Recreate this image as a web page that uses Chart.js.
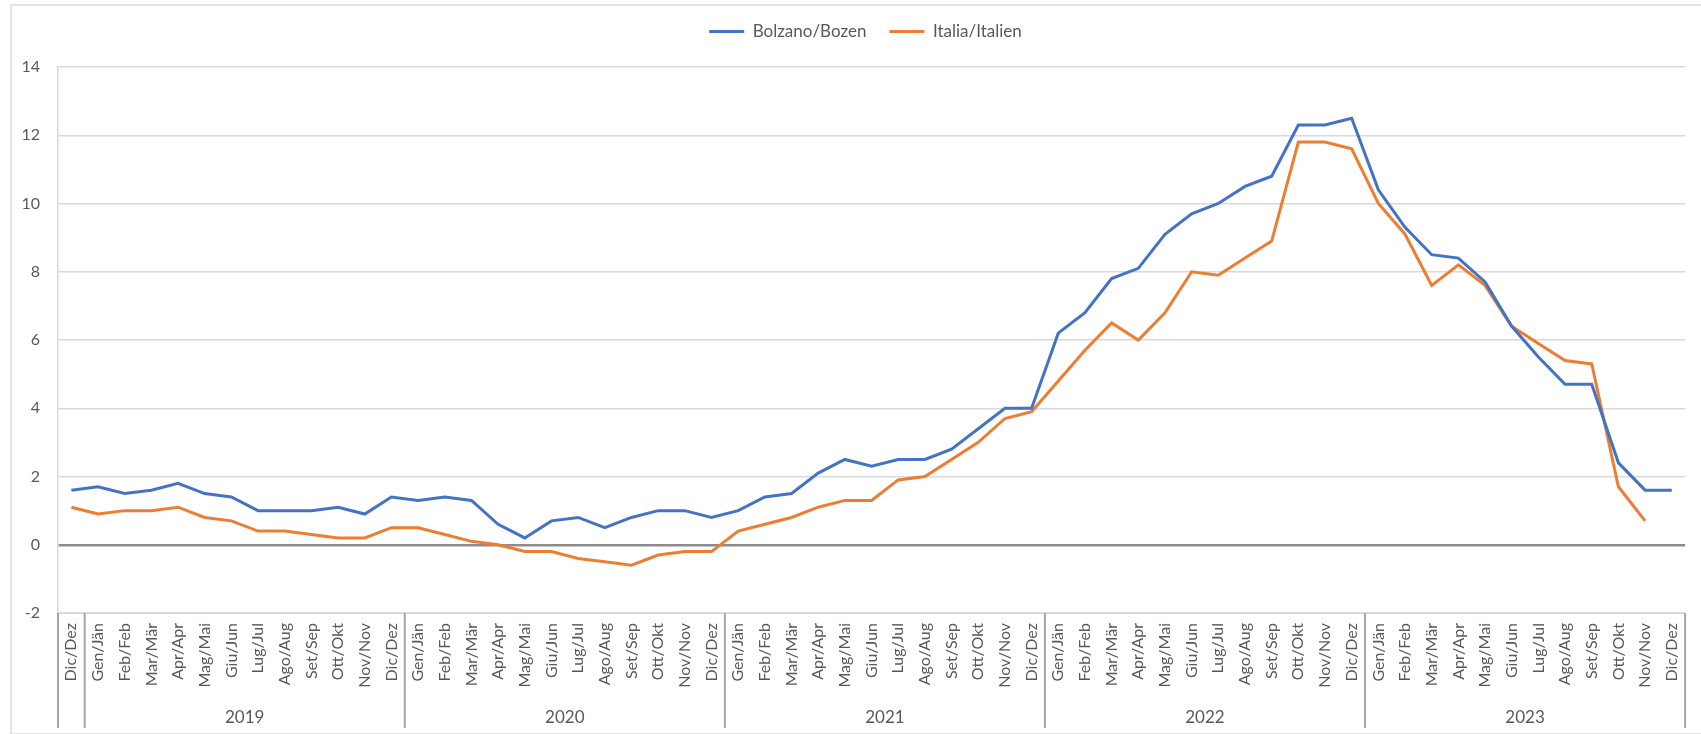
<!DOCTYPE html>
<html>
<head>
<meta charset="utf-8">
<script src="https://cdn.jsdelivr.net/npm/chart.js@4/dist/chart.umd.min.js"></script>
<style>
    body { margin: 0; background: #fff; }
    #wrap { position: relative; width: 1701px; height: 734px; overflow: hidden; }
    #frame {
        position: absolute; left: 10px; top: 4px; width: 1720px; height: 727px;
        border: 2px solid #e3e3e3; pointer-events: none;
    }
</style>
</head>
<body>
<div id="wrap">
    <canvas id="inflChart"></canvas>
    <div id="frame"></div>
</div>
<script>
const months = ['Gen/Jän', 'Feb/Feb', 'Mar/Mär', 'Apr/Apr', 'Mag/Mai', 'Giu/Jun',
    'Lug/Jul', 'Ago/Aug', 'Set/Sep', 'Ott/Okt', 'Nov/Nov', 'Dic/Dez'];
const years = ['2019', '2020', '2021', '2022', '2023'];
const firstLabel = 'Dic/Dez'; // december 2018, no year label under it

const bolzano = [
    1.6,
    1.7, 1.5, 1.6, 1.8, 1.5, 1.4, 1.0, 1.0, 1.0, 1.1, 0.9, 1.4,
    1.3, 1.4, 1.3, 0.6, 0.2, 0.7, 0.8, 0.5, 0.8, 1.0, 1.0, 0.8,
    1.0, 1.4, 1.5, 2.1, 2.5, 2.3, 2.5, 2.5, 2.8, 3.4, 4.0, 4.0,
    6.2, 6.8, 7.8, 8.1, 9.1, 9.7, 10.0, 10.5, 10.8, 12.3, 12.3, 12.5,
    10.4, 9.3, 8.5, 8.4, 7.7, 6.4, 5.5, 4.7, 4.7, 2.4, 1.6, 1.6
];
const italia = [
    1.1,
    0.9, 1.0, 1.0, 1.1, 0.8, 0.7, 0.4, 0.4, 0.3, 0.2, 0.2, 0.5,
    0.5, 0.3, 0.1, 0.0, -0.2, -0.2, -0.4, -0.5, -0.6, -0.3, -0.2, -0.2,
    0.4, 0.6, 0.8, 1.1, 1.3, 1.3, 1.9, 2.0, 2.5, 3.0, 3.7, 3.9,
    4.8, 5.7, 6.5, 6.0, 6.8, 8.0, 7.9, 8.4, 8.9, 11.8, 11.8, 11.6,
    10.0, 9.1, 7.6, 8.2, 7.6, 6.4, 5.9, 5.4, 5.3, 1.7, 0.7, null
];

const categories = [firstLabel];
years.forEach(() => months.forEach(m => categories.push(m)));

const textColor = '#595959';
const fontFamily = 'Lato, "Open Sans", sans-serif';

// year row + group separators under the month labels
const yearRows = {
    id: 'yearRows',
    beforeLayout(chart) {
        const lg = chart.legend;
        if (lg && !lg._patched) {
            const fit = lg.fit.bind(lg);
            lg.fit = function () { fit(); this.height += 17; };
            lg._patched = true;
        }
    },
    afterLayout(chart) {
        // legend is centred on the plot, not on the whole canvas
        if (chart.legend) chart.legend.left += 34;
    },
    afterDraw(chart) {
        const x = chart.scales.x;
        const ctx = chart.ctx;
        const top = chart.chartArea.bottom;
        const bottom = 728;
        const px = i => x.getPixelForValue(i);
        const half = (px(1) - px(0)) / 2;

        const seps = [x.left, px(0) + half];
        years.forEach((y, k) => seps.push(px(12 + 12 * k) + half));
        seps[seps.length - 1] = x.right;

        ctx.save();
        ctx.strokeStyle = '#a6a6a6';
        ctx.lineWidth = 2;
        seps.forEach(s => {
            ctx.beginPath();
            ctx.moveTo(s, top);
            ctx.lineTo(s, bottom);
            ctx.stroke();
        });

        ctx.fillStyle = textColor;
        ctx.font = '17px ' + fontFamily;
        ctx.textAlign = 'center';
        ctx.textBaseline = 'middle';
        years.forEach((y, k) => {
            const c = (px(1 + 12 * k) + px(12 + 12 * k)) / 2;
            ctx.fillText(y, c, 718);
        });
        ctx.restore();
    }
};

new Chart(document.getElementById('inflChart'), {
    type: 'line',
    data: {
        labels: categories,
        datasets: [
            {
                label: 'Bolzano/Bozen',
                data: bolzano,
                borderColor: '#4472C4',
                backgroundColor: '#4472C4',
                borderWidth: 3,
                pointRadius: 0,
                tension: 0
            },
            {
                label: 'Italia/Italien',
                data: italia,
                borderColor: '#ED7D31',
                backgroundColor: '#ED7D31',
                borderWidth: 3,
                pointRadius: 0,
                tension: 0
            }
        ]
    },
    options: {
        responsive: true,
        maintainAspectRatio: false,
        animation: false,
        layout: { padding: { left: 0, right: 4, top: 0, bottom: 0 } },
        plugins: {
            tooltip: { enabled: false },
            legend: {
                position: 'top',
                labels: {
                    usePointStyle: true,
                    pointStyle: 'line',
                    pointStyleWidth: 35,
                    padding: 23,
                    color: textColor,
                    font: { family: fontFamily, size: 17 }
                }
            }
        },
        scales: {
            x: {
                offset: true,
                grid: { display: false, drawTicks: false },
                border: { display: true, color: '#d9d9d9', width: 1 },
                ticks: {
                    autoSkip: false,
                    minRotation: 90,
                    maxRotation: 90,
                    padding: 10,
                    color: textColor,
                    font: { family: fontFamily, size: 16 }
                },
                afterFit(scale) { scale.height = 121; }
            },
            y: {
                min: -2,
                max: 14,
                ticks: {
                    stepSize: 2,
                    padding: 18,
                    color: textColor,
                    font: { family: fontFamily, size: 16 }
                },
                grid: {
                    drawTicks: false,
                    color: ctx => ctx.tick && ctx.tick.value === 0 ? '#8c8c8c' : '#d9d9d9',
                    lineWidth: ctx => ctx.tick && ctx.tick.value === 0 ? 2.5 : 1.5
                },
                border: { display: true, color: '#d9d9d9', width: 1.5 },
                afterFit(scale) { scale.width = 58; }
            }
        }
    },
    plugins: [yearRows]
});
</script>
</body>
</html>
